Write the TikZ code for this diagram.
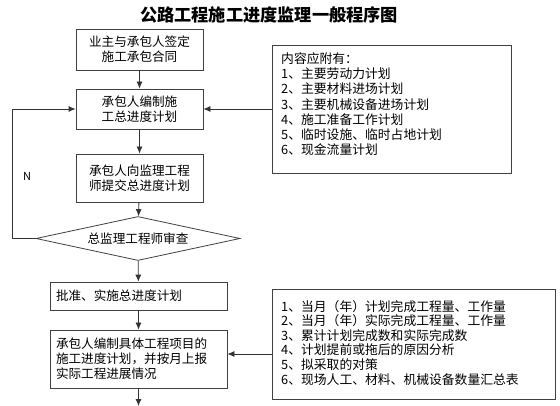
\documentclass[tikz,border=0pt]{standalone}
\usepackage{fontspec}
\setmainfont{Noto Sans CJK SC}
\usetikzlibrary{shapes.geometric,arrows.meta}
\tikzset{
  box/.style={draw=black!75, line width=0.8pt, inner sep=0pt, font=\fontsize{12.6}{15}\selectfont},
  arr/.style={draw=black!80, line width=0.8pt, -{Latex[length=7pt,width=6pt]}},
  listtxt/.style={anchor=north west, align=left, inner sep=0pt},
}
\begin{document}
\begin{tikzpicture}[x=1pt,y=-1pt]
\useasboundingbox (0,0) rectangle (560,406);
\node[font=\fontsize{17.2}{19}\selectfont\bfseries] (title) at (269,15) {公路工程施工进度监理一般程序图};

\node[box, minimum width=127, minimum height=41, align=center] (b1) at (139.5,49.5) {业主与承包人签定\\施工承包合同};
\node[box, minimum width=127, minimum height=40, align=center] (b2) at (139.5,109) {承包人编制施\\工总进度计划};
\node[box, minimum width=127, minimum height=48, align=center] (b3) at (139.5,178) {承包人向监理工程\\师提交总进度计划};
\node[box, shape=diamond, shape aspect=4.6, minimum width=204, minimum height=44] (dia) at (138,238.5) {总监理工程师审查};
\node[box, minimum width=177, minimum height=28, text width=165, align=left] (b4) at (138.5,296) {批准、实施总进度计划};
\node[box, minimum width=177, minimum height=58, text width=165, align=left] (b5) at (138.5,359) {承包人编制具体工程项目的\\施工进度计划，并按月上报\\实际工程进展情况};

\node[box, minimum width=239, minimum height=128] (r1) at (391.5,109) {};
\node[listtxt, font=\fontsize{12.8}{15.2}\selectfont] (r1t) at (281,52.5) {内容应附有：\\1、主要劳动力计划\\2、主要材料进场计划\\3、主要机械设备进场计划\\4、施工准备工作计划\\5、临时设施、临时占地计划\\6、现金流量计划};

\node[box, minimum width=283, minimum height=110] (r2) at (413.5,344) {};
\node[listtxt, font=\fontsize{12.8}{14.6}\selectfont] (r2t) at (281,300) {1、当月（年）计划完成工程量、工作量\\2、当月（年）实际完成工程量、工作量\\3、累计计划完成数和实际完成数\\4、计划提前或拖后的原因分析\\5、拟采取的对策\\6、现场人工、材料、机械设备数量汇总表};

\coordinate (bot) at (138.5,406);
\coordinate (lft) at (12,238.5);

\draw[arr] (b1) -- (b2);
\draw[arr] (b2) -- (b3);
\draw[arr] (b3) -- (dia);
\draw[arr] (dia) -- (b4);
\draw[arr] (b4) -- (b5);
\draw[arr] (b5) -- (bot);
\draw[arr] (dia.west) -- (lft) |- (b2.west);
\node[font=\fontsize{11}{12}\selectfont] (n) at (27,176) {N};
\draw[arr] (r1.west) -- (b2.east);
\draw[arr] (r2.west |- 0,354) -- (b5.east |- 0,354);
\end{tikzpicture}
\end{document}
